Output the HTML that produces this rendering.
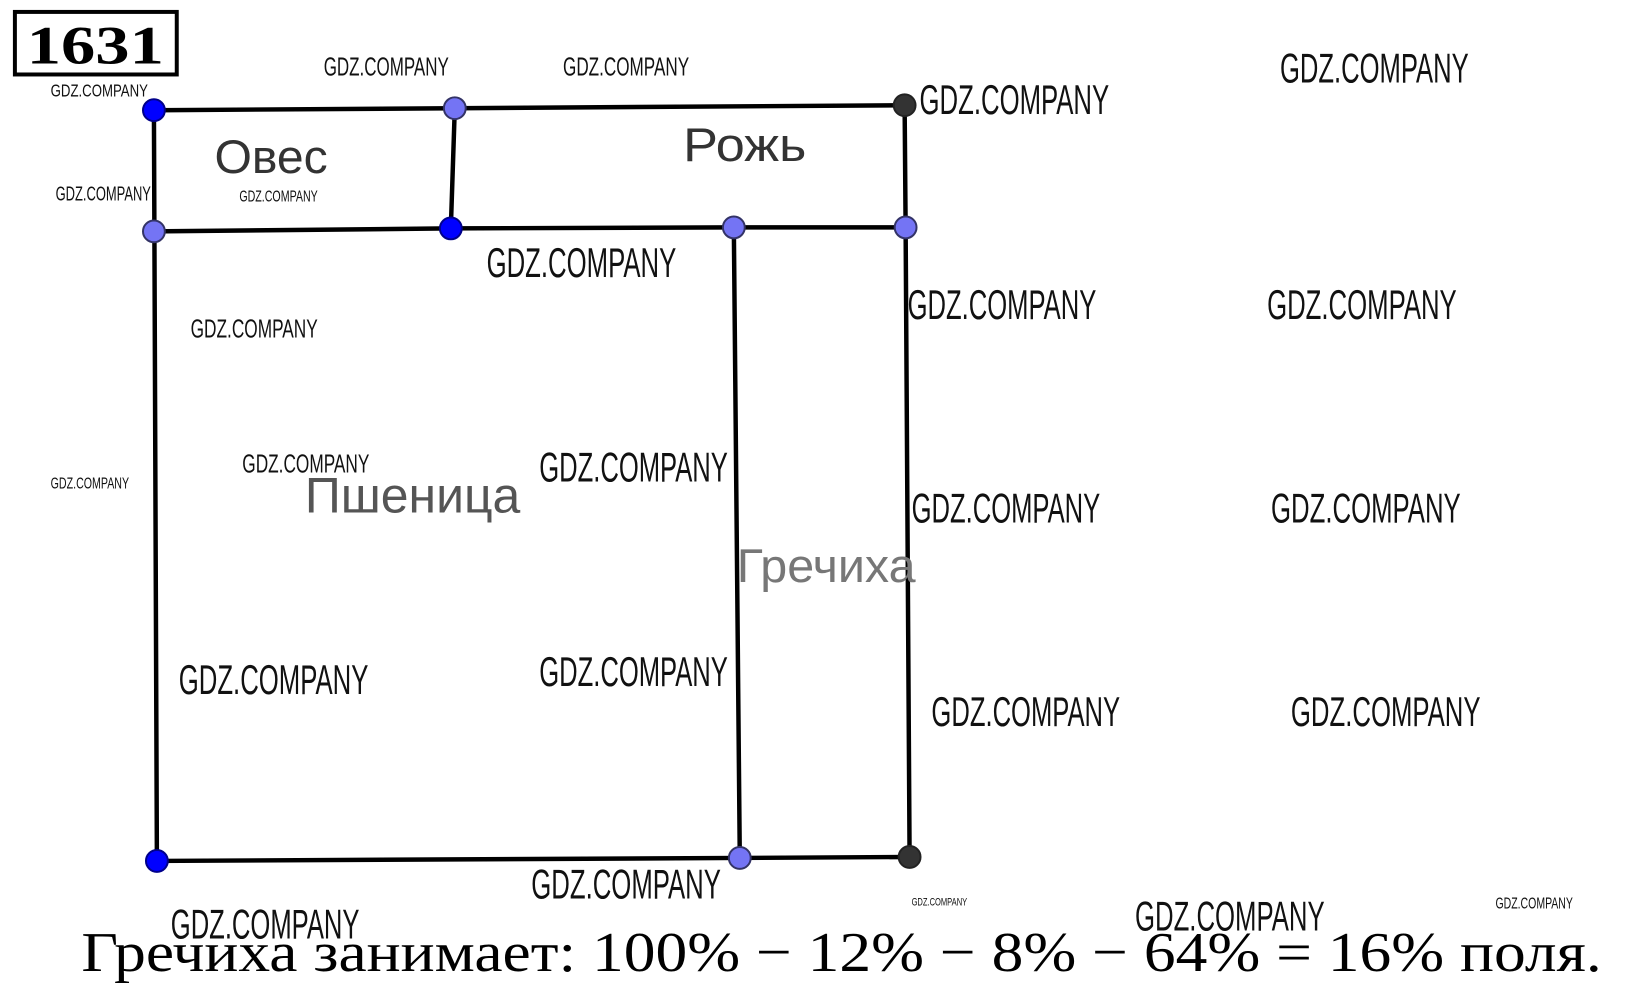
<!DOCTYPE html>
<html><head><meta charset="utf-8"><style>
html,body{margin:0;padding:0;background:#fff}
svg{display:block}
.w{font-family:"Liberation Sans",sans-serif;fill:#111}
</style></head><body>
<svg width="1630" height="989" viewBox="0 0 1630 989" xmlns="http://www.w3.org/2000/svg">
<rect x="0" y="0" width="1630" height="989" fill="#fff"/>
<g transform="scale(0.993)">
<!-- number box -->
<rect x="15" y="12" width="163" height="63" fill="#fff" stroke="#000" stroke-width="4"/>
<text x="96" y="64" text-anchor="middle" font-family="Liberation Serif,serif" font-weight="bold" font-size="54" textLength="138" lengthAdjust="spacingAndGlyphs">1631</text>

<!-- lines -->
<g stroke="#000" stroke-width="4.5" fill="none" stroke-linecap="round">
<polyline points="155,111 458,109 911,106"/>
<line x1="458" y1="109" x2="454" y2="230"/>
<polyline points="155,233 454,230 739,229 912,229"/>
<polyline points="911,106 912,229 916,863"/>
<line x1="155" y1="111" x2="158" y2="867"/>
<line x1="739" y1="229" x2="745" y2="864"/>
<polyline points="158,867 745,864 916,863"/>
</g>

<!-- labels -->
<g font-family="Liberation Sans,sans-serif" fill="#333">
<text x="216" y="174" font-size="48" textLength="114" lengthAdjust="spacingAndGlyphs">Овес</text>
<text x="688" y="162" font-size="48" textLength="124" lengthAdjust="spacingAndGlyphs">Рожь</text>
<text x="307" y="516" font-size="50" fill="#555" textLength="217" lengthAdjust="spacingAndGlyphs">Пшеница</text>
<text x="742" y="586" font-size="48" fill="#777" textLength="180" lengthAdjust="spacingAndGlyphs">Гречиха</text>
</g>

<!-- points -->
<g stroke-width="2">
<circle cx="155" cy="111" r="11" fill="#0000ff" stroke="#00008a"/>
<circle cx="458" cy="109" r="11" fill="#7474f4" stroke="#333366"/>
<circle cx="911" cy="106" r="11" fill="#333" stroke="#222"/>
<circle cx="155" cy="233" r="11" fill="#7474f4" stroke="#333366"/>
<circle cx="454" cy="230" r="11" fill="#0000ff" stroke="#00008a"/>
<circle cx="739" cy="229" r="11" fill="#7474f4" stroke="#333366"/>
<circle cx="912" cy="229" r="11" fill="#7474f4" stroke="#333366"/>
<circle cx="158" cy="867" r="11" fill="#0000ff" stroke="#00008a"/>
<circle cx="745" cy="864" r="11" fill="#7474f4" stroke="#333366"/>
<circle cx="916" cy="863" r="11" fill="#333" stroke="#222"/>
</g>

<!-- watermarks -->
<g class="w">
<text x="326" y="76" font-size="26" textLength="126" lengthAdjust="spacingAndGlyphs">GDZ.COMPANY</text>
<text x="567" y="76" font-size="26" textLength="127" lengthAdjust="spacingAndGlyphs">GDZ.COMPANY</text>
<text x="926" y="115" font-size="42" textLength="191" lengthAdjust="spacingAndGlyphs">GDZ.COMPANY</text>
<text x="1289" y="83" font-size="42" textLength="190" lengthAdjust="spacingAndGlyphs">GDZ.COMPANY</text>
<text x="51" y="97" font-size="18" textLength="98" lengthAdjust="spacingAndGlyphs">GDZ.COMPANY</text>
<text x="56" y="202" font-size="20" textLength="96" lengthAdjust="spacingAndGlyphs">GDZ.COMPANY</text>
<text x="241" y="203" font-size="16" textLength="79" lengthAdjust="spacingAndGlyphs">GDZ.COMPANY</text>
<text x="490" y="279" font-size="42" textLength="191" lengthAdjust="spacingAndGlyphs">GDZ.COMPANY</text>
<text x="914" y="321" font-size="42" textLength="190" lengthAdjust="spacingAndGlyphs">GDZ.COMPANY</text>
<text x="1276" y="321" font-size="42" textLength="191" lengthAdjust="spacingAndGlyphs">GDZ.COMPANY</text>
<text x="192" y="340" font-size="26" textLength="128" lengthAdjust="spacingAndGlyphs">GDZ.COMPANY</text>
<text x="51" y="492" font-size="16" textLength="79" lengthAdjust="spacingAndGlyphs">GDZ.COMPANY</text>
<text x="244" y="476" font-size="26" textLength="128" lengthAdjust="spacingAndGlyphs">GDZ.COMPANY</text>
<text x="543" y="485" font-size="42" textLength="190" lengthAdjust="spacingAndGlyphs">GDZ.COMPANY</text>
<text x="918" y="526" font-size="42" textLength="190" lengthAdjust="spacingAndGlyphs">GDZ.COMPANY</text>
<text x="1280" y="526" font-size="42" textLength="191" lengthAdjust="spacingAndGlyphs">GDZ.COMPANY</text>
<text x="180" y="699" font-size="42" textLength="191" lengthAdjust="spacingAndGlyphs">GDZ.COMPANY</text>
<text x="543" y="691" font-size="42" textLength="190" lengthAdjust="spacingAndGlyphs">GDZ.COMPANY</text>
<text x="938" y="731" font-size="42" textLength="190" lengthAdjust="spacingAndGlyphs">GDZ.COMPANY</text>
<text x="1300" y="731" font-size="42" textLength="191" lengthAdjust="spacingAndGlyphs">GDZ.COMPANY</text>
<text x="535" y="905" font-size="42" textLength="191" lengthAdjust="spacingAndGlyphs">GDZ.COMPANY</text>
<text x="172" y="945" font-size="42" textLength="190" lengthAdjust="spacingAndGlyphs">GDZ.COMPANY</text>
<text x="918" y="912" font-size="11" textLength="56" lengthAdjust="spacingAndGlyphs">GDZ.COMPANY</text>
<text x="1143" y="937" font-size="42" textLength="191" lengthAdjust="spacingAndGlyphs">GDZ.COMPANY</text>
<text x="1506" y="915" font-size="16" textLength="78" lengthAdjust="spacingAndGlyphs">GDZ.COMPANY</text>
</g>

<!-- bottom text -->
<text x="82" y="978" font-family="Liberation Serif,serif" font-size="57" fill="#000" textLength="1531" lengthAdjust="spacingAndGlyphs">Гречиха занимает: 100% − 12% − 8% − 64%  =  16% поля.</text>
</g>
</svg>
</body></html>
